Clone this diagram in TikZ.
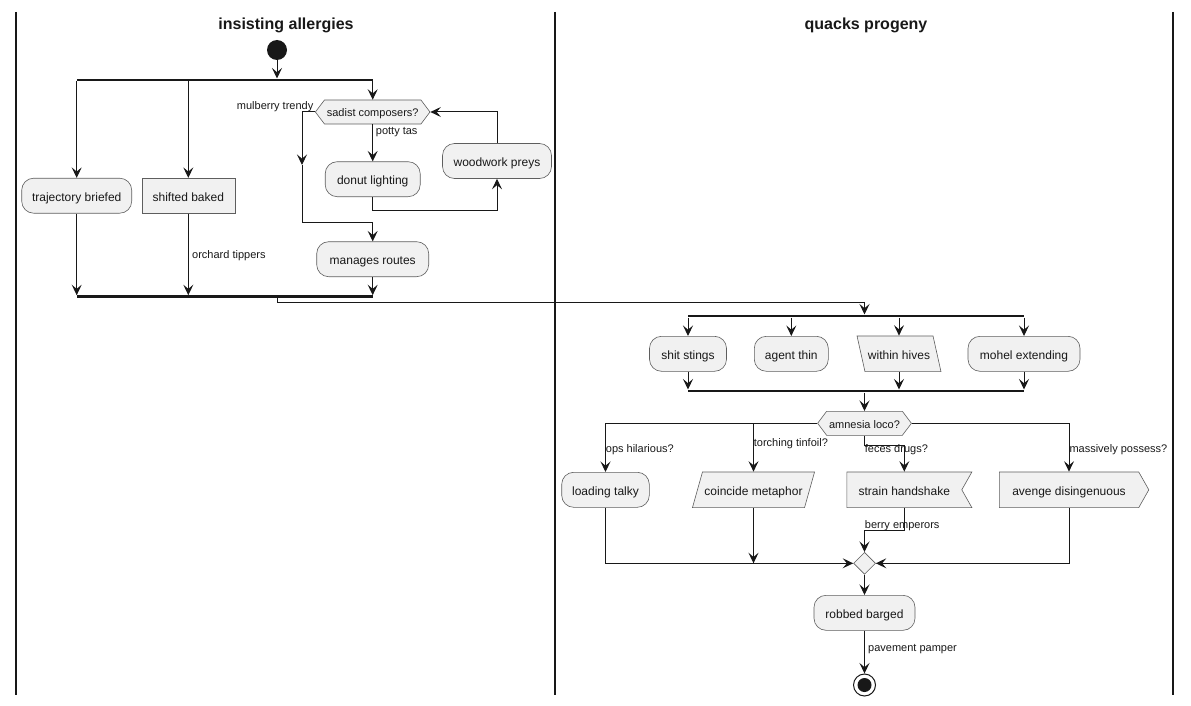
\documentclass[tikz,border=0pt]{standalone}
\usepackage{fontspec}
\setmainfont{Liberation Sans}
\usetikzlibrary{shapes.geometric,shapes.symbols,arrows.meta}
\definecolor{boxfill}{HTML}{F1F1F1}
\definecolor{boxline}{HTML}{5E5E5E}
\definecolor{ink}{HTML}{181818}

\begin{document}
\begin{tikzpicture}[x=1pt,y=-1pt,
  text=ink,
  activity/.style={
    rectangle,
    rounded corners=12pt,
    draw=boxline, fill=boxfill,
    line width=.6pt,
    minimum height=35pt,
    inner sep=0pt,
    text height=11pt, text depth=0pt,
    font=\fontsize{12}{14}\selectfont,
  },
  plainbox/.style={activity, rounded corners=0pt},
  decision/.style={
    signal, signal to=west and east, signal pointer angle=106,
    draw=boxline, fill=boxfill, line width=.6pt,
    minimum height=24pt, inner xsep=2.4pt, inner ysep=0pt,
    text height=9.4pt, text depth=0pt,
    font=\fontsize{11}{13}\selectfont,
  },
  iobox/.style={
    trapezium, trapezium stretches=true,
    draw=boxline, fill=boxfill, line width=.6pt,
    inner ysep=12.35pt,
    text height=11pt, text depth=0pt,
    font=\fontsize{12}{14}\selectfont,
  },
  sendbox/.style={
    signal, signal to=east, signal pointer angle=121,
    draw=boxline, fill=boxfill, line width=.6pt,
    minimum height=35.7pt, inner xsep=13pt, inner ysep=0pt,
    text height=11pt, text depth=0pt,
    font=\fontsize{12}{14}\selectfont,
  },
  recvbox/.style={sendbox, signal to=nowhere, signal from=east, inner xsep=11.8pt},
  merge/.style={
    diamond, draw=boxline, fill=boxfill, line width=.6pt,
    inner sep=0pt, minimum width=22pt, minimum height=22pt,
  },
  bar/.style={rectangle, fill=ink, inner sep=0pt, minimum height=2.6pt},
  lbl/.style={inner sep=0pt, anchor=west, font=\fontsize{11}{13}\selectfont},
  lanetitle/.style={inner sep=0pt, font=\fontsize{16}{19}\selectfont\bfseries},
  flow/.style={draw=ink, line width=1pt, -{Stealth[length=10.5pt,width=10pt,inset=4.2pt]}},
  lane/.style={draw=ink, line width=2pt},
  ]
\useasboundingbox (0,0) rectangle (1191,706);

% swimlanes
\draw[lane] (15.5,12) -- (15.5,694.5);
\draw[lane] (555.3,12) -- (555.3,694.5);
\draw[lane] (1172.5,12) -- (1172.5,694.5);
\node[lanetitle] (titleA) at (286,25.5) {insisting allergies};
\node[lanetitle] (titleB) at (866,25.5) {quacks progeny};

% left lane
\node[circle, fill=ink, inner sep=0pt, minimum size=20pt] (start) at (277,50) {};
\node[bar, minimum width=296pt] (fork1) at (224.7,80) {};
\node[activity, minimum width=110pt] (trajectory) at (76.7,195.7) {trajectory briefed};
\node[plainbox, minimum width=93pt] (shifted) at (188.3,195.7) {shifted baked};
\node[decision] (sadist) at (372.7,112) {sadist composers?};
\node[activity, minimum width=95pt] (donut) at (372.7,179.2) {donut lighting};
\node[activity, minimum width=109pt] (woodwork) at (497,161) {woodwork preys};
\node[activity, minimum width=112pt] (manages) at (372.7,259.2) {manages routes};
\node[bar, minimum width=296pt] (join1) at (224.7,296.7) {};
\coordinate (mulmid) at (302,165);
\coordinate (mulbend) at (302,222);

\draw[flow] (start) -- (start |- fork1.north);
\draw[flow] (trajectory |- fork1.south) -- (trajectory.north);
\draw[flow] (shifted |- fork1.south) -- (shifted.north);
\draw[flow] (sadist |- fork1.south) -- (sadist.north);
\draw[flow] (sadist.west) -| (mulmid);
\draw[flow] (mulmid) -- (mulbend) -| (manages.north);
\draw[flow] (sadist.south) -- (donut.north);
\draw[flow] (donut.south) -- ++(0,13.5) -| (woodwork.south);
\draw[flow] (woodwork.north) |- (sadist.east);
\draw[flow] (trajectory.south) -- (trajectory |- join1.north);
\draw[flow] (shifted.south) -- (shifted |- join1.north);
\draw[flow] (manages.south) -- (manages |- join1.north);
\node[lbl, anchor=south east] (lblmulberry) at ([xshift=-1.5pt,yshift=0.5pt]sadist.west) {mulberry trendy};
\node[lbl] (lblpotty) at (375.7,132) {potty tas};
\node[lbl] (lblorchard) at (192,256) {orchard tippers};

% right lane
\node[bar, minimum width=336.3pt] (fork2) at (855.85,316) {};
\node[activity, minimum width=77pt] (shit) at (688,353.8) {shit stings};
\node[activity, minimum width=74pt] (agent) at (791.3,353.8) {agent thin};
\node[iobox, trapezium left angle=102.6, trapezium right angle=77.4, inner xsep=3pt] (hives) at (899,353.8) {within hives};
\node[activity, minimum width=112pt] (mohel) at (1024,353.8) {mohel extending};
\node[bar, minimum width=336.3pt] (join2) at (855.85,391) {};
\node[decision] (amnesia) at (864.5,423.3) {amnesia loco?};
\node[activity, minimum width=87.6pt] (loading) at (605.5,489.8) {loading talky};
\node[iobox, trapezium left angle=74.3, trapezium right angle=105.7, inner xsep=2pt] (coincide) at (753.5,489.8) {coincide metaphor};
\node[recvbox] (strain) at (904.3,489.8) {strain handshake};
\node[sendbox] (avenge) at (1069,489.8) {avenge disingenuous};
\node[merge] (merge) at (864.5,563.3) {};
\node[activity, minimum width=101pt] (robbed) at (864.5,612.8) {robbed barged};
\node[circle, draw=ink, fill=white, line width=1pt, inner sep=0pt, minimum size=22pt] (stop) at (864.5,685) {};
\fill[ink] (stop.center) circle (7pt);

\draw[flow] (start |- join1.south) -- ++(0,4.3) -| (amnesia |- fork2.north);
\draw[flow] (shit |- fork2.south) -- (shit.north);
\draw[flow] (agent |- fork2.south) -- (agent.north);
\draw[flow] (hives |- fork2.south) -- (hives.center |- hives.north);
\draw[flow] (mohel |- fork2.south) -- (mohel.north);
\draw[flow] (shit.south) -- (shit |- join2.north);
\draw[flow] (hives.center |- hives.south) -- (hives |- join2.north);
\draw[flow] (mohel.south) -- (mohel |- join2.north);
\draw[flow] (amnesia |- join2.south) -- (amnesia.north);
\draw[flow] (amnesia.west) -| (loading.north);
\draw[flow] (coincide |- amnesia.west) -- (coincide.center |- coincide.north);
\draw[flow] (amnesia.south) -- ++(0,10) -| (strain.center |- strain.north);
\draw[flow] (amnesia.east) -| (avenge.center |- avenge.north);
\draw[flow] (loading.south) |- (merge.west);
\draw[flow] (coincide.center |- coincide.south) -- (coincide |- merge.west);
\draw[flow] (strain.center |- strain.south) -- ++(0,22.6) -| (merge.north);
\draw[flow] (avenge.center |- avenge.south) |- (merge.east);
\draw[flow] (merge.south) -- (robbed.north);
\draw[flow] (robbed.south) -- (stop.north);
\node[lbl] (lblops) at (605.7,449.5) {ops hilarious?};
\node[lbl] (lbltorch) at (753.7,444) {torching tinfoil?};
\node[lbl] (lblfeces) at (864.7,450) {feces drugs?};
\node[lbl] (lblmassive) at (1069.3,450) {massively possess?};
\node[lbl] (lblberry) at (864.7,526) {berry emperors};
\node[lbl] (lblpavement) at (868,649) {pavement pamper};
\end{tikzpicture}
\end{document}
